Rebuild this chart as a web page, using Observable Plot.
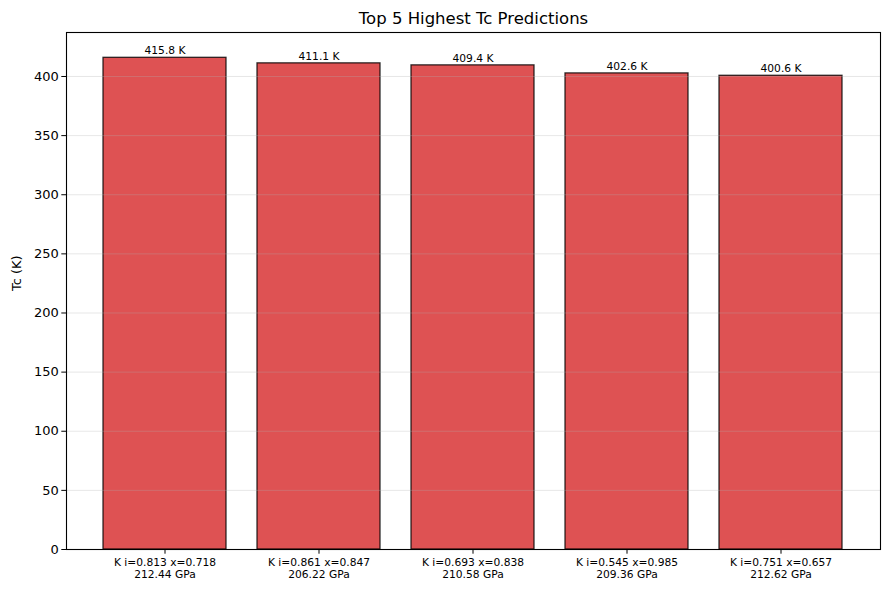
<!DOCTYPE html>
<html><head><meta charset="utf-8">
<script src="https://cdn.jsdelivr.net/npm/d3@7"></script>
<script src="https://cdn.jsdelivr.net/npm/@observablehq/plot@0.6"></script>
<style>body{margin:0;background:#fff;font-family:"DejaVu Sans",sans-serif}</style>
</head><body><div id="chart"></div>
<script>
const categories = ["K i=0.813 x=0.718\n212.44 GPa","K i=0.861 x=0.847\n206.22 GPa","K i=0.693 x=0.838\n210.58 GPa","K i=0.545 x=0.985\n209.36 GPa","K i=0.751 x=0.657\n212.62 GPa"];
const tcValues = [415.8, 411.1, 409.4, 402.6, 400.6];
const yTicks = [0,50,100,150,200,250,300,350,400];
const data = categories.map((c,i)=>({cat:c, tc:tcValues[i]}));

const plot = Plot.plot({
  width: 889, height: 590,
  marginLeft: 66, marginRight: 9, marginTop: 32, marginBottom: 41,
  style: {fontFamily: '"DejaVu Sans", sans-serif', background: "#fff", color: "#000"},
  x: {type: "band", domain: categories, paddingInner: 0.2, paddingOuter: 0.236, label: null},
  y: {domain: [0, 437.2], label: null},
  marks: [
    Plot.barY(data, {x: "cat", y: "tc", fill: "#d62728", fillOpacity: 0.8, stroke: "#000", strokeOpacity: 0.8, strokeWidth: 1.3}),
    Plot.gridY(yTicks, {stroke: "#b0b0b0", strokeOpacity: 0.3, strokeWidth: 1}),
    Plot.text(data, {x: "cat", y: "tc", text: d => d.tc.toFixed(1) + " K", dy: -7, fontSize: 10.7, fill: "#000"}),
    Plot.axisY(yTicks, {tickSize: 4.7, tickPadding: 3, fontSize: 13, label: null, stroke: "#000"}),
    Plot.axisX({tickSize: 4.7, tickPadding: 3, fontSize: 10.7, lineHeight: 1.12, label: null, stroke: "#000"}),
    Plot.frame({stroke: "#000", strokeWidth: 1.1}),
    Plot.text(["Top 5 Highest Tc Predictions"], {frameAnchor: "top", lineAnchor: "middle", dy: -14, fontSize: 16.5, fill: "#000"}),
    Plot.text(["Tc (K)"], {frameAnchor: "left", dx: -50, rotate: -90, fontSize: 13, fill: "#000"})
  ]
});
document.getElementById("chart").appendChild(plot);
</script>
</body></html>
